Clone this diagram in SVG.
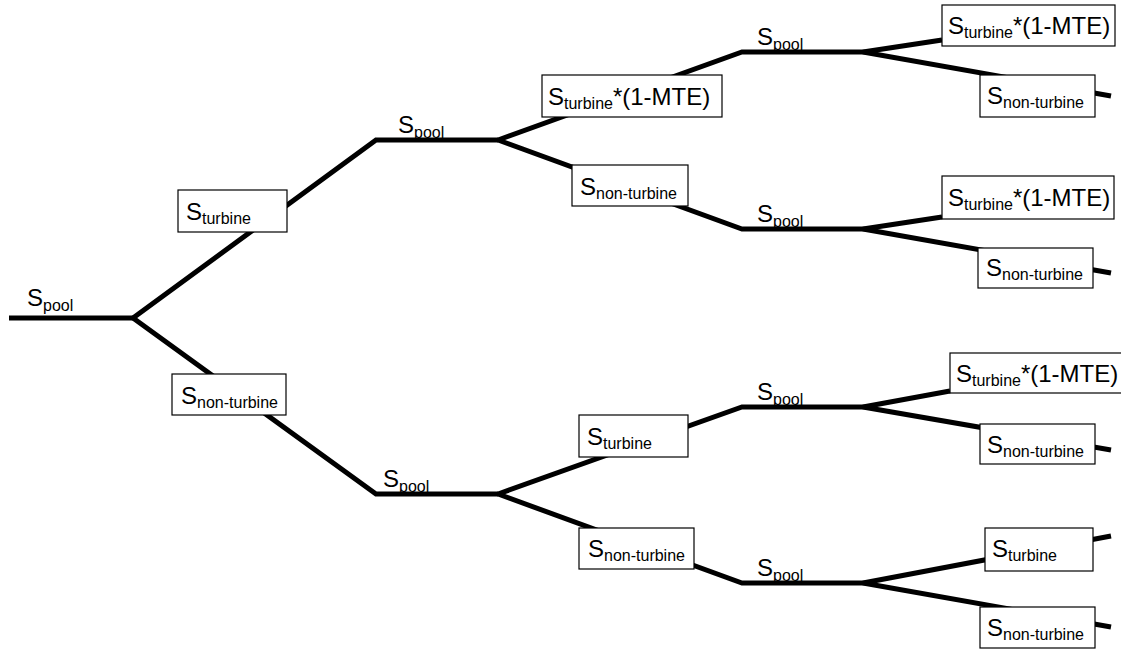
<svg xmlns="http://www.w3.org/2000/svg" width="1121" height="650" viewBox="0 0 1121 650">
<style>
.c{fill:none;stroke:#000;stroke-width:5;stroke-linejoin:miter}
.b{fill:#fff;stroke:#000;stroke-width:1.2}
text{font-family:"Liberation Sans",Arial,sans-serif;font-size:24px;fill:#000}
.s{font-size:16px}
</style>
<rect width="1121" height="650" fill="#fff"/>
<g id="connectors">
<path class="c" d="M9,318 H133"/>
<path class="c" d="M133,318 L376,140 H498"/>
<path class="c" d="M133,318 L376,494 H498"/>
<path class="c" d="M498,140 L742,52 H863"/>
<path class="c" d="M498,140 L742,229 H863"/>
<path class="c" d="M498,494 L742,407 H863"/>
<path class="c" d="M498,494 L742,583 H863"/>
<path class="c" d="M863,52 L942,40"/>
<path class="c" d="M863,52 L1111,96"/>
<path class="c" d="M863,229 L942,217"/>
<path class="c" d="M863,229 L1111,273"/>
<path class="c" d="M863,407 L950,391"/>
<path class="c" d="M863,407 L1111,450"/>
<path class="c" d="M863,583 L1111,536"/>
<path class="c" d="M863,583 L1111,627"/>
</g>
<g id="labels">
<text x="27" y="306">S<tspan class="s" dy="5">pool</tspan></text>
<text x="398" y="133">S<tspan class="s" dy="5">pool</tspan></text>
<text x="383" y="487">S<tspan class="s" dy="5">pool</tspan></text>
<text x="757" y="45">S<tspan class="s" dy="5">pool</tspan></text>
<text x="757" y="222">S<tspan class="s" dy="5">pool</tspan></text>
<text x="757" y="400">S<tspan class="s" dy="5">pool</tspan></text>
<text x="757" y="576">S<tspan class="s" dy="5">pool</tspan></text>
</g>
<g id="n1"><rect class="b" x="178" y="190" width="109" height="42"/><text x="186" y="220">S<tspan class="s" dy="4">turbine</tspan></text></g>
<g id="n2"><rect class="b" x="172" y="374" width="114" height="41"/><text x="181" y="404">S<tspan class="s" dy="4">non-turbine</tspan></text></g>
<g id="n3"><rect class="b" x="542" y="75" width="180" height="42"/><text x="548" y="105">S<tspan class="s" dy="4">turbine</tspan><tspan dy="-4">*(1-MTE)</tspan></text></g>
<g id="n4"><rect class="b" x="572" y="165" width="116" height="41"/><text x="580" y="195">S<tspan class="s" dy="4">non-turbine</tspan></text></g>
<g id="n5"><rect class="b" x="579" y="415" width="109" height="42"/><text x="587" y="445">S<tspan class="s" dy="4">turbine</tspan></text></g>
<g id="n6"><rect class="b" x="579" y="528" width="115" height="41"/><text x="588" y="557">S<tspan class="s" dy="4">non-turbine</tspan></text></g>
<g id="n7"><rect class="b" x="942" y="5" width="173" height="41"/><text x="948" y="34">S<tspan class="s" dy="4">turbine</tspan><tspan dy="-4">*(1-MTE)</tspan></text></g>
<g id="n8"><rect class="b" x="980" y="75" width="115" height="42"/><text x="987" y="104">S<tspan class="s" dy="4">non-turbine</tspan></text></g>
<g id="n9"><rect class="b" x="942" y="176" width="172" height="43"/><text x="948" y="206">S<tspan class="s" dy="4">turbine</tspan><tspan dy="-4">*(1-MTE)</tspan></text></g>
<g id="n10"><rect class="b" x="978" y="248" width="115" height="40"/><text x="986" y="276">S<tspan class="s" dy="4">non-turbine</tspan></text></g>
<g id="n11"><rect class="b" x="950" y="353" width="172" height="40"/><text x="956" y="382">S<tspan class="s" dy="4">turbine</tspan><tspan dy="-4">*(1-MTE)</tspan></text></g>
<g id="n12"><rect class="b" x="980" y="424" width="115" height="40"/><text x="987" y="453">S<tspan class="s" dy="4">non-turbine</tspan></text></g>
<g id="n13"><rect class="b" x="985" y="528" width="108" height="43"/><text x="992" y="557">S<tspan class="s" dy="4">turbine</tspan></text></g>
<g id="n14"><rect class="b" x="980" y="607" width="115" height="41"/><text x="987" y="636">S<tspan class="s" dy="4">non-turbine</tspan></text></g>
</svg>
